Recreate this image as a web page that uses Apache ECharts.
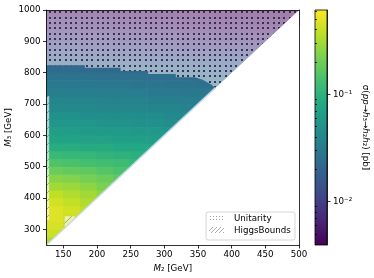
<!DOCTYPE html>
<html><head><meta charset="utf-8">
<script src="https://cdn.jsdelivr.net/npm/echarts@6/dist/echarts.min.js"></script>
<style>html,body{margin:0;padding:0;background:#fff}#c{width:374px;height:278px}</style>
</head><body><div id="c"></div>
<script>
// ---- data ----
const m2Cols = [137.5,162.5,187.5,212.5,237.5,262.5,287.5,312.5,337.5,362.5,387.5,412.5,437.5,462.5,487.5];
const m3Rows = [262.5,287.5,312.5,337.5,362.5,387.5,412.5,437.5,462.5,487.5,512.5,537.5,562.5,587.5,612.5,637.5,662.5,687.5,712.5,737.5,762.5,787.5,812.5,837.5,862.5,887.5,912.5,937.5,962.5,987.5];
// sigma(pp -> h3 -> h2 h2) in pb, one row per M3 value, columns per M2 value
const sigma = [
  [0.333],
  [0.407],
  [0.451,0.387],
  [0.474,0.407],
  [0.474,0.428,0.368],
  [0.428,0.387,0.333],
  [0.368,0.333,0.301,0.259],
  [0.301,0.286,0.259,0.222],
  [0.246,0.234,0.211,0.191,0.173],
  [0.191,0.182,0.173,0.156,0.141],
  [0.149,0.141,0.134,0.128,0.121,0.110],
  [0.115,0.110,0.110,0.104,0.0992,0.0944],
  [0.0897,0.0897,0.0853,0.0853,0.0811,0.0811,0.0771],
  [0.0733,0.0733,0.0698,0.0698,0.0663,0.0663,0.0631],
  [0.0631,0.0631,0.0600,0.0600,0.0600,0.0570,0.0570,0.0542],
  [0.0542,0.0542,0.0542,0.0515,0.0515,0.0490,0.0490,0.0466],
  [0.0490,0.0490,0.0466,0.0466,0.0466,0.0443,0.0443,0.0421,0.0421],
  [0.0421,0.0421,0.0421,0.0400,0.0400,0.0400,0.0381,0.0381,0.0362],
  [0.0381,0.0381,0.0381,0.0362,0.0362,0.0362,0.0344,0.0344,0.0327,0.0327],
  [0.0344,0.0344,0.0344,0.0327,0.0327,0.0327,0.0311,0.0311,0.0296,0.0296],
  [0.0311,0.0311,0.0296,0.0296,0.0296,0.0281,0.0281,0.0268,0.0268,0.0255,0.0255],
  [0.0268,0.0268,0.0268,0.0255,0.0255,0.0255,0.0242,0.0242,0.0230,0.0230,0.0219],
  [0.0230,0.0230,0.0230,0.0219,0.0219,0.0219,0.0208,0.0208,0.0198,0.0198,0.0188,0.0188],
  [0.0179,0.0179,0.0179,0.0170,0.0170,0.0170,0.0161,0.0161,0.0161,0.0153,0.0153,0.0146],
  [0.0139,0.0139,0.0132,0.0132,0.0125,0.0125,0.0119,0.0119,0.0113,0.0113,0.0108,0.0108,0.0103],
  [0.0108,0.0108,0.0103,0.0103,0.00975,0.00975,0.00927,0.00927,0.00881,0.00881,0.00838,0.00838,0.00797],
  [0.00881,0.00881,0.00838,0.00838,0.00797,0.00797,0.00758,0.00758,0.00721,0.00721,0.00685,0.00685,0.00651,0.00651],
  [0.00721,0.00721,0.00685,0.00685,0.00651,0.00651,0.00619,0.00619,0.00589,0.00589,0.00560,0.00560,0.00532,0.00532],
  [0.00619,0.00619,0.00589,0.00589,0.00560,0.00560,0.00532,0.00532,0.00506,0.00506,0.00482,0.00482,0.00458,0.00458,0.00435],
  [0.00532,0.00532,0.00506,0.00506,0.00482,0.00482,0.00458,0.00458,0.00435,0.00435,0.00414,0.00414,0.00394,0.00394,0.00394]
];
const xTicks = [150,200,250,300,350,400,450,500];
const yTicks = [300,400,500,600,700,800,900,1000];
const cbMajor = [0.01,0.1];
const cbMajorLabels = ['10\u207B\u00B2','10\u207B\u00B9'];
const cbMinor = [0.004,0.005,0.006,0.007,0.008,0.009,0.02,0.03,0.04,0.05,0.06,0.07,0.08,0.09,0.2,0.3,0.4,0.5,0.6];
const cbRange = [0.00394,0.61];
// Unitarity-excluded region boundary
const unitarityM2 = [125,500,375,371,357,345,317,317,276,276,235,235,182,182,125];
const unitarityM3 = [1000,1000,750,761,777,785,785,796,796,805,805,816,816,824,824];
// HiggsBounds-excluded regions
const hbStripM2 = [125,129,129,125];
const hbStripM3 = [725,725,330,330];
const hbSquareM2 = [152,167,167,153.5,152];
const hbSquareM3 = [342,342,334,307,307];
const hbDiagM2 = [125,376];
const hbDiagM3 = [250,752];
// kinematic limit M3 = 2 M2
const diagM2 = [125,500];
const diagM3 = [250,1000];

// ---- chart ----
const lg = Math.log10;
const CELL_HALF = 12.5;
const FONT = 'DejaVu Sans';
const FS = 8.7;
const viridis = ['#440154','#482475','#414487','#355f8d','#2a788e','#21918c','#22a884','#44bf70','#7ad151','#bddf26','#fde725'];
const heatData = [];
sigma.forEach((row,i)=>row.forEach((v,j)=>heatData.push([m2Cols[j], m3Rows[i], v, lg(v)])));

function makeCanvas(w,h,draw){const c=document.createElement('canvas');c.width=w;c.height=h;draw(c.getContext('2d'));return c;}
const dotPat = makeCanvas(16,16,ctx=>{ctx.fillStyle='rgba(40,30,70,0.85)';for(const a of [1,6,11])for(const b of [1,6,11])ctx.fillRect(a,b,2,2);});
const legDotPat = makeCanvas(3,3,ctx=>{ctx.fillStyle='rgba(150,150,150,0.9)';ctx.fillRect(0,0,1,1);});
function hatch(size,color,lw){return makeCanvas(size,size,ctx=>{ctx.strokeStyle=color;ctx.lineWidth=lw;ctx.beginPath();
  ctx.moveTo(-size/2,size/2);ctx.lineTo(size/2,-size/2);ctx.moveTo(0,size);ctx.lineTo(size,0);ctx.moveTo(size/2,size*1.5);ctx.lineTo(size*1.5,size/2);ctx.stroke();});}
const hbPat = hatch(8,'rgba(70,70,70,0.55)',0.8);
const legHbPat = hatch(4,'rgba(140,140,140,0.9)',0.8);

function polySeries(m2s,m3s,styles,z){
  return {type:'custom',xAxisIndex:0,yAxisIndex:0,z:z,silent:true,clip:true,data:[[m2s[0],m3s[0]]],
    renderItem:(p,api)=>{const pts=m2s.map((x,k)=>api.coord([x,m3s[k]]));
      return {type:'group',children:styles.map(s=>({type:'polygon',shape:{points:pts},style:s}))};}};
}
const tickStyle = {color:'#000',width:0.8};
const lblStyle = {fontSize:FS,color:'#000',fontFamily:FONT};
const rich = {i:{fontStyle:'italic',fontSize:FS,color:'#000',fontFamily:FONT}};
const plain = v=>String(v);

const chart = echarts.init(document.getElementById('c'),null,{renderer:'canvas'});
chart.setOption({
  animation:false,
  textStyle:{fontFamily:FONT},
  grid:[{left:46.5,top:10,width:252.5,height:235,outerBoundsMode:'none',containLabel:false},
        {left:315,top:10,width:12,height:235,outerBoundsMode:'none',containLabel:false}],
  visualMap:{type:'continuous',show:false,seriesIndex:0,dimension:3,min:lg(cbRange[0]),max:lg(cbRange[1]),inRange:{color:viridis}},
  xAxis:[
    {type:'value',gridIndex:0,min:125,max:500,z:10,splitLine:{show:false},
     axisLine:{show:true,onZero:false,lineStyle:tickStyle},
     axisTick:{show:true,customValues:xTicks,length:3.5,lineStyle:tickStyle},
     axisLabel:Object.assign({customValues:xTicks,margin:5,formatter:plain},lblStyle),
     name:'{i|M}\u2082 [GeV]',nameLocation:'middle',nameGap:17,nameTextStyle:Object.assign({rich:rich},lblStyle)},
    {type:'value',gridIndex:0,position:'top',min:125,max:500,z:10,splitLine:{show:false},
     axisLine:{show:true,onZero:false,lineStyle:tickStyle},axisTick:{show:false},axisLabel:{show:false}},
    {type:'value',gridIndex:1,min:0,max:1,show:false}
  ],
  yAxis:[
    {type:'value',gridIndex:0,min:250,max:1000,z:10,splitLine:{show:false},
     axisLine:{show:true,onZero:false,lineStyle:tickStyle},
     axisTick:{show:true,customValues:yTicks,length:3.5,lineStyle:tickStyle},
     axisLabel:Object.assign({customValues:yTicks,margin:6,formatter:plain},lblStyle),
     name:'{i|M}\u2083 [GeV]',nameLocation:'middle',nameRotate:90,nameGap:33,nameMoveOverlap:false,
     nameTextStyle:Object.assign({rich:rich},lblStyle)},
    {type:'value',gridIndex:0,position:'right',min:250,max:1000,z:10,splitLine:{show:false},
     axisLine:{show:true,onZero:false,lineStyle:tickStyle},axisTick:{show:false},axisLabel:{show:false}},
    {type:'value',gridIndex:1,position:'right',min:lg(cbRange[0]),max:lg(cbRange[1]),z:10,splitLine:{show:false},
     axisLine:{show:true,onZero:false,lineStyle:tickStyle},
     axisTick:{show:true,customValues:cbMajor.map(lg),length:3.5,lineStyle:tickStyle},
     axisLabel:Object.assign({customValues:cbMajor.map(lg),margin:6,
       formatter:v=>{for(let k=0;k<cbMajor.length;k++){if(Math.abs(lg(cbMajor[k])-v)<1e-6)return cbMajorLabels[k];}return '';}},lblStyle),
     name:'\u03C3({i|pp}\u2192{i|h}\u2083\u2192{i|h}\u2082{i|h}\u2082) [pb]',nameLocation:'middle',nameRotate:-90,nameGap:34,
     nameTextStyle:Object.assign({rich:rich},lblStyle)},
    {type:'value',gridIndex:1,position:'right',min:lg(cbRange[0]),max:lg(cbRange[1]),z:10,splitLine:{show:false},
     axisLine:{show:false},axisTick:{show:true,customValues:cbMinor.map(lg),length:2,lineStyle:tickStyle},axisLabel:{show:false}}
  ],
  series:[
    {type:'custom',xAxisIndex:0,yAxisIndex:0,z:2,silent:true,clip:true,data:heatData,encode:{x:0,y:1},
     renderItem:(p,api)=>{const a=api.coord([api.value(0)-CELL_HALF,api.value(1)+CELL_HALF]);const b=api.coord([api.value(0)+CELL_HALF,api.value(1)-CELL_HALF]);
       return {type:'rect',shape:{x:a[0]-0.3,y:a[1]-0.3,width:b[0]-a[0]+0.6,height:b[1]-a[1]+0.6},style:{fill:api.visual('color')}};}},
    polySeries(unitarityM2,unitarityM3,[{fill:'rgba(255,255,255,0.5)'},{fill:{image:dotPat,repeat:'repeat'}}],3),
    polySeries(hbStripM2,hbStripM3,[{fill:'rgba(255,255,255,0.6)'},{fill:{image:hbPat,repeat:'repeat'}}],4),
    polySeries(hbSquareM2,hbSquareM3,[{fill:'rgba(255,255,255,0.6)'},{fill:{image:hbPat,repeat:'repeat'}}],4),
    {type:'line',xAxisIndex:0,yAxisIndex:0,z:5,silent:true,symbol:'none',data:diagM2.map((x,k)=>[x,diagM3[k]]),
     lineStyle:{width:0,opacity:0},areaStyle:{color:'#fff',opacity:1,origin:'start'}},
    {type:'line',xAxisIndex:0,yAxisIndex:0,z:6,silent:true,symbol:'none',data:hbDiagM2.map((x,k)=>[x,hbDiagM3[k]]),
     lineStyle:{width:1.6,color:'rgba(200,215,235,0.9)'}},
    {type:'custom',xAxisIndex:2,yAxisIndex:2,z:2,silent:true,data:[[0,0]],
     renderItem:(p,api)=>{const a=api.coord([0,lg(cbRange[1])]);const b=api.coord([1,lg(cbRange[0])]);
       return {type:'rect',shape:{x:a[0],y:a[1],width:b[0]-a[0],height:b[1]-a[1]},
         style:{fill:new echarts.graphic.LinearGradient(0,1,0,0,viridis.map((c,i)=>({offset:i/(viridis.length-1),color:c}))),stroke:'#000',lineWidth:0.8}};}}
  ],
  graphic:[
    {type:'rect',z:20,shape:{x:206,y:212,width:89,height:28,r:2},style:{fill:'rgba(255,255,255,0.85)',stroke:'#cccccc',lineWidth:0.8}},
    {type:'rect',z:21,shape:{x:209,y:216,width:15,height:5},style:{fill:{image:legDotPat,repeat:'repeat'}}},
    {type:'rect',z:21,shape:{x:209,y:227,width:15,height:6},style:{fill:{image:legHbPat,repeat:'repeat'}}},
    {type:'text',z:21,x:234,y:218.5,style:{text:'Unitarity',fontSize:FS,fill:'#000',fontFamily:FONT,verticalAlign:'middle'}},
    {type:'text',z:21,x:234,y:230.5,style:{text:'HiggsBounds',fontSize:FS,fill:'#000',fontFamily:FONT,verticalAlign:'middle'}}
  ]
});
</script></body></html>
